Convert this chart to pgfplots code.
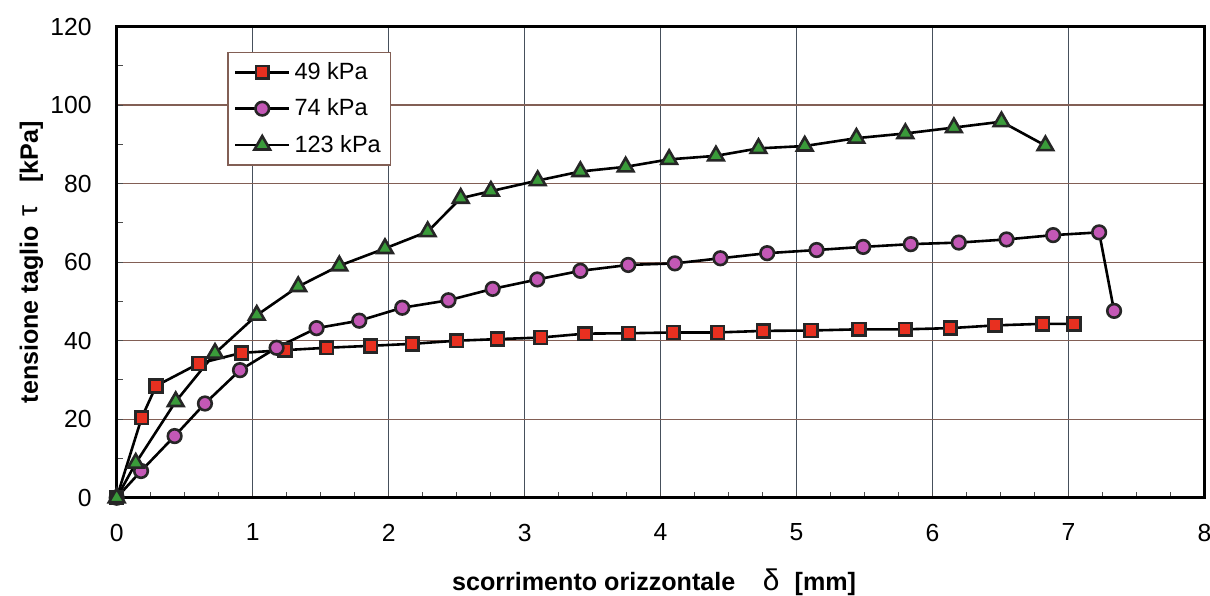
\documentclass[border=0pt]{standalone}
\usepackage{pgfplots}
\pgfplotsset{compat=1.18}
\usepackage{fontspec}
\setmainfont{Liberation Sans}
\definecolor{vgrid}{RGB}{70,80,92}
\definecolor{hgrid}{RGB}{130,95,85}
\definecolor{sqred}{RGB}{232,48,32}
\definecolor{cimag}{RGB}{196,88,182}
\definecolor{trgreen}{RGB}{58,155,58}
\begin{document}
\begin{tikzpicture}
\begin{axis}[
  scale only axis,
  width=543.9bp, height=235.5bp,
  xmin=0, xmax=8, ymin=0, ymax=120,
  xtick={0,1,...,8}, ytick={0,20,...,120},
  minor x tick num=3, minor y tick num=1,
  xtick pos=left, ytick pos=left,
  tick align=inside,
  major tick length=3bp, minor tick length=3bp,
  every tick/.style={black!70, line width=0.5bp},
  grid=major,
  x grid style={vgrid, line width=0.6bp},
  y grid style={hgrid, line width=0.7bp},
  axis line style={black, line width=1.5bp},
  /pgf/number format/assume math mode=true,
  ticklabel style={font=\fontsize{12.4}{14}\selectfont},
  yticklabel style={xshift=-9bp},
  xticklabel style={yshift=-9.6bp},
  xlabel={\bfseries scorrimento orizzontale\hspace{1.1em}{\mdseries\fontsize{15}{15}\selectfont δ}\hspace{0.6em}[mm]},
  ylabel={\bfseries tensione taglio\hspace{0.4em}{\mdseries\fontsize{14}{14}\selectfont τ}\hspace{0.9em}[kPa]},
  label style={font=\fontsize{12.6}{14}\selectfont},
  xlabel style={at={(axis description cs:0.494,-0.196)}, anchor=base},
  ylabel style={at={(axis description cs:-0.0724,0.5)}, anchor=base, rotate=0},
  legend style={at={(axis description cs:0.1017,0.947)}, anchor=north west,
    draw=hgrid, line width=0.6bp, fill=white,
    font=\fontsize{11.8}{13}\selectfont,
    inner xsep=3bp, inner ysep=3bp, row sep=4.2bp,
    /tikz/every even column/.append style={column sep=2bp}},
  legend cell align=left,
  legend image code/.code={%
    \draw[black, line width=1.3bp] (0bp,0bp) -- (27bp,0bp);
    \draw[#1, mark repeat=2, mark phase=2] plot coordinates {(0bp,0bp) (13.5bp,0bp) (27bp,0bp)};},
  every axis plot/.append style={black, line width=1.3bp, mark options={line width=1bp, solid}},
  clip=false,
]
\addplot[mark=square*, mark size=3.2bp, mark options={fill=sqred, draw=black!85}] coordinates {
(0,0)(0.184,20.4)(0.29,28.5)(0.605,34.2)(0.919,36.9)(1.238,37.6)(1.544,38.2)(1.868,38.7)
(2.174,39.2)(2.5,40.0)(2.80,40.4)(3.118,40.8)(3.443,41.8)(3.765,41.9)(4.093,42.1)(4.42,42.1)
(4.755,42.5)(5.105,42.6)(5.458,42.9)(5.80,42.9)(6.13,43.2)(6.458,43.9)(6.81,44.3)(7.04,44.3)};
\addlegendentry{49 kPa}
\addplot[mark=*, mark size=3.4bp, mark options={fill=cimag, draw=black!85}] coordinates {
(0,0)(0.179,6.8)(0.426,15.7)(0.649,24.0)(0.907,32.5)(1.176,38.2)(1.47,43.2)(1.784,45.1)
(2.10,48.4)(2.44,50.3)(2.765,53.2)(3.093,55.6)(3.41,57.8)(3.762,59.3)(4.105,59.7)(4.44,61.0)
(4.784,62.3)(5.147,63.1)(5.49,63.9)(5.84,64.6)(6.193,65.0)(6.544,65.8)(6.887,66.9)(7.225,67.6)(7.335,47.6)};
\addlegendentry{74 kPa}
\addplot[mark=triangle*, mark size=4.5bp, mark options={fill=trgreen, draw=black!85}] coordinates {
(0,0)(0.14,8.8)(0.434,24.5)(0.723,36.8)(1.03,46.5)(1.335,53.8)(1.637,59.1)(1.973,63.5)
(2.287,67.8)(2.53,76.3)(2.752,78.1)(3.096,80.8)(3.41,83.1)(3.743,84.3)(4.063,86.2)(4.407,87.1)
(4.72,89.0)(5.06,89.6)(5.44,91.6)(5.80,92.8)(6.157,94.3)(6.507,95.8)(6.83,89.7)};
\addlegendentry{123 kPa}
\end{axis}
\pgfresetboundingbox
\path[use as bounding box] (-58.35bp,-49.15bp) rectangle (546.65bp,248.85bp);
\end{tikzpicture}
\end{document}
